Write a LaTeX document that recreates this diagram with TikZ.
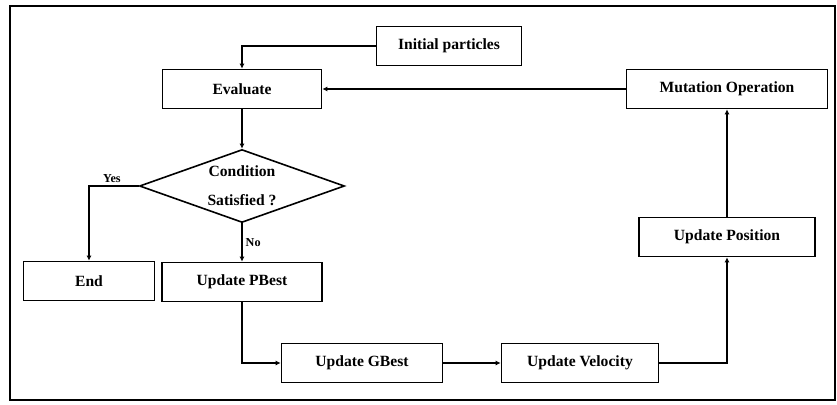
\documentclass[tikz,border=0pt]{standalone}
\usepackage{fontspec}
\setmainfont{Liberation Serif}
\usetikzlibrary{arrows.meta,shapes.geometric}

\begin{document}
\begin{tikzpicture}[x=0.5pt,y=-0.5pt,
  box/.style={draw, line width=0.8pt, minimum height=19.5pt, inner sep=1pt,
    font=\fontsize{7.8}{9}\selectfont\bfseries},
  decision/.style={diamond, draw, line width=0.8pt, aspect=2.8, inner sep=0pt,
    minimum width=102.5pt, minimum height=36.5pt, align=center,
    font=\fontsize{7.8}{14.5}\selectfont\bfseries},
  tag/.style={font=\fontsize{6.1}{7}\selectfont\bfseries, inner sep=1.5pt},
  flow/.style={-{Latex[length=2.5pt,width=2.5pt]}, line width=0.7pt}]
\useasboundingbox (0,0) rectangle (837,404);
\draw[line width=0.8pt] (10,6) rectangle (835,400);
% boxes
\node[box, minimum width=72.5pt] (init) at (449,46) {Initial particles};
\node[box, minimum width=79.5pt] (eval) at (242,89) {Evaluate};
\node[box, minimum width=100.5pt] (mut) at (727,89) {Mutation Operation};
\node[decision] (cond) at (242,186) {Condition\\Satisfied ?};
\node[box, minimum width=65.5pt] (end) at (89,281) {End};
\node[box, minimum width=80pt] (pbest) at (242,282) {Update PBest};
\node[box, minimum width=80.5pt] (gbest) at (362,363) {Update GBest};
\node[box, minimum width=78.5pt] (vel) at (580,363) {Update Velocity};
\node[box, minimum width=88pt] (pos) at (727,237) {Update Position};
% connectors
\draw[flow] (init.west) -| (eval.north);
\draw[flow] (mut.west) -- (eval.east);
\draw[flow] (eval) -- (cond);
\draw[flow] (cond.west) -| node[tag, above, pos=0.27] {Yes} (end.north);
\draw[flow] (cond.south) -- node[tag, right] {No} (pbest.north);
\draw[flow] (pbest.south) |- (gbest.west);
\draw[flow] (gbest) -- (vel);
\draw[flow] (vel.east) -| (pos.south);
\draw[flow] (pos) -- (mut);
\end{tikzpicture}
\end{document}
